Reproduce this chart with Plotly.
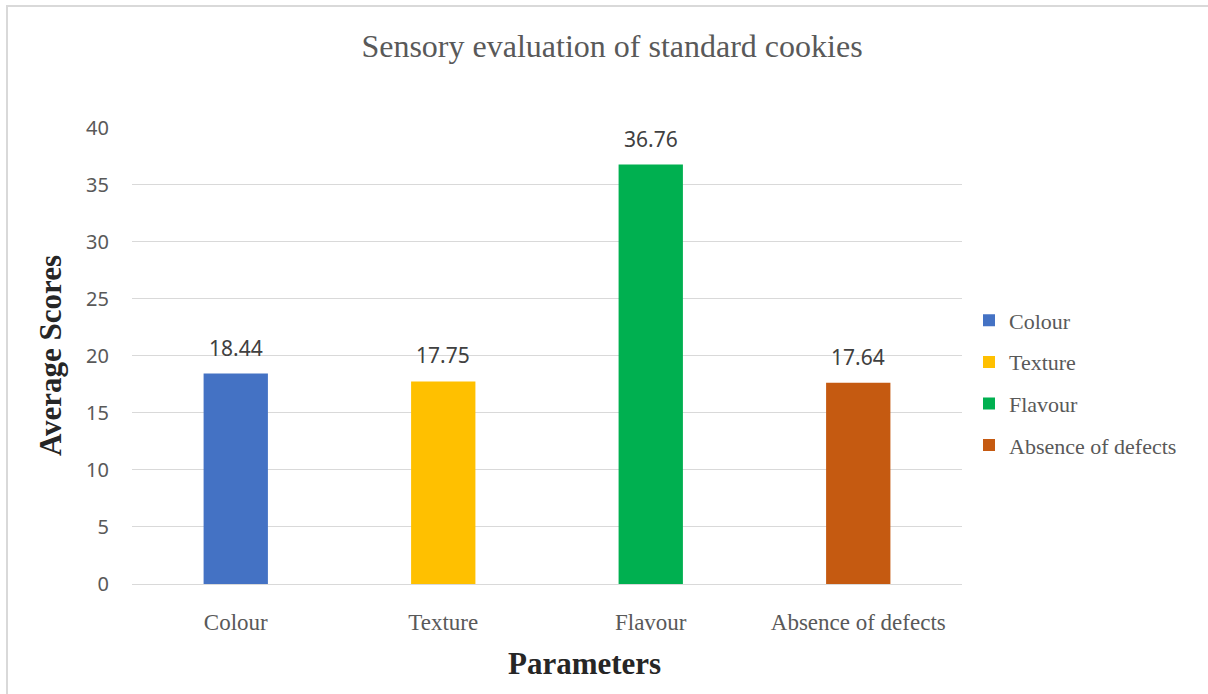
import plotly.graph_objects as go

# Sensory scores for the standard cookies
parameters = ["Colour", "Texture", "Flavour", "Absence of defects"]
scores = [18.44, 17.75, 36.76, 17.64]
bar_colors = ["#4472C4", "#FFC000", "#00B050", "#C55A11"]
y_ticks = [0, 5, 10, 15, 20, 25, 30, 35, 40]

W, H = 1208, 694
L, R, T, B = 132, 246, 127, 110
plot_w = W - L - R
plot_h = H - T - B


def px_x(px):
    return (px - L) / plot_w


def px_y(py):
    return (H - B - py) / plot_h


serif = "Liberation Serif, Times New Roman, serif"
sans = "Noto Sans, Open Sans, sans-serif"

fig = go.Figure()
for name, val, col in zip(parameters, scores, bar_colors):
    fig.add_trace(go.Bar(
        x=[name], y=[val], name=name, legendgroup=name,
        marker=dict(color=col, line=dict(width=0)),
        width=0.31, hoverinfo="x+y",
    ))

annotations = []
for name, val in zip(parameters, scores):
    annotations.append(dict(
        x=name, y=val, xref="x", yref="y", text=f"{val:.2f}",
        showarrow=False, yanchor="bottom", yshift=10,
        font=dict(family=sans, size=21, color="#404040"),
    ))

annotations.append(dict(
    x=px_x(584), y=px_y(663), xref="paper", yref="paper", text="<b>Parameters</b>",
    showarrow=False, xanchor="center", yanchor="middle",
    font=dict(family=serif, size=31, color="#262626"),
))
annotations.append(dict(
    x=px_x(50), y=px_y(356), xref="paper", yref="paper", text="<b>Average Scores</b>",
    showarrow=False, xanchor="center", yanchor="middle", textangle=-90,
    font=dict(family=serif, size=31, color="#262626"),
))

fig.update_layout(
    width=W, height=H,
    margin=dict(l=L, r=R, t=T, b=B, autoexpand=False),
    paper_bgcolor="white", plot_bgcolor="white",
    barmode="overlay",
    title=dict(
        text="Sensory evaluation of standard cookies",
        x=612 / W, xanchor="center", y=1 - 46 / H, yanchor="middle",
        font=dict(family=serif, size=32, color="#595959"),
    ),
    xaxis=dict(
        categoryorder="array", categoryarray=parameters,
        showgrid=False, showline=False, zeroline=False,
        ticks="", ticklabelstandoff=22,
        tickfont=dict(family=serif, size=23, color="#595959"),
    ),
    yaxis=dict(
        range=[0, 40.05], tickvals=y_ticks,
        showgrid=True, gridcolor="#D9D9D9", gridwidth=1,
        zeroline=True, zerolinecolor="#D9D9D9", zerolinewidth=1,
        showline=False, ticks="", ticklabelstandoff=22,
        tickfont=dict(family=sans, size=20, color="#595959"),
    ),
    legend=dict(
        xref="container", yref="container",
        x=969 / W, y=1 - 383 / H, xanchor="left", yanchor="middle",
        font=dict(family=serif, size=22, color="#595959"),
        tracegroupgap=10, itemwidth=30, bgcolor="rgba(0,0,0,0)",
    ),
    annotations=annotations,
    shapes=[dict(
        type="rect", xref="paper", yref="paper",
        x0=px_x(7), x1=px_x(1212), y0=px_y(700), y1=px_y(6),
        line=dict(color="#D9D9D9", width=2), fillcolor="rgba(0,0,0,0)", layer="below",
    )],
    showlegend=True,
)

fig.write_html("out.html")
